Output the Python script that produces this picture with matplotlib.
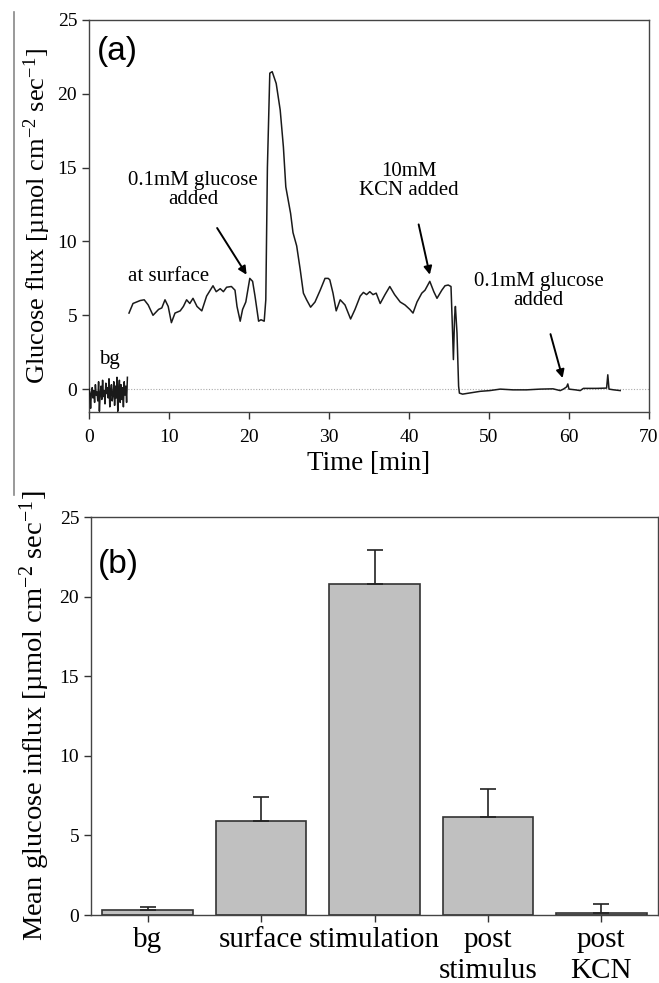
import matplotlib
matplotlib.use("Agg")
import matplotlib.pyplot as plt
from matplotlib.lines import Line2D

plt.rcParams['font.family'] = ['Liberation Serif', 'DejaVu Serif']
plt.rcParams['mathtext.default'] = 'regular'

# ---------------- panel (a) data ----------------
t_bg = [0.0, 0.1, 0.2, 0.3, 0.4, 0.5, 0.6, 0.7, 0.8, 0.9, 1.0, 1.1, 1.2, 1.3, 1.4, 1.5,
        1.6, 1.7, 1.8, 1.9, 2.0, 2.1, 2.2, 2.3, 2.4, 2.5, 2.6, 2.7, 2.8, 2.9, 3.0, 3.1,
        3.2, 3.3, 3.4, 3.5, 3.6, 3.7, 3.8, 3.9, 4.0, 4.1, 4.2, 4.3, 4.4, 4.5, 4.6, 4.7, 4.8]
y_bg = [0.0, -0.3, -1.3, -0.2, 0.1, -0.6, -0.1, -0.9, 0.3, -0.4, -0.2, -0.8, 0.5, -1.5, -0.3,
        0.2, -0.7, 0.6, -0.5, -0.1, -1.0, 0.4, -0.3, 0.1, -0.6, 0.7, -1.2, -0.2, 0.3, -0.8,
        -0.4, 0.5, -1.1, 0.2, -0.6, 0.8, -1.5, -0.1, 0.6, -0.9, 0.3, -0.7, 0.1, -1.2, 0.5,
        -0.4, 0.2, -0.9, 0.8]

t_flux = [5.0, 5.5, 6.4, 6.9, 7.4, 8.0, 8.7, 9.1, 9.5, 9.9, 10.3, 10.75, 11.4, 11.8, 12.2,
          12.6, 13.0, 13.5, 14.1, 14.7, 15.5, 15.9, 16.4, 16.8, 17.2, 17.8, 18.25, 18.5,
          18.9, 19.2, 19.6, 20.1, 20.45, 20.75, 21.2, 21.5, 21.9, 22.1, 22.3, 22.6, 22.9,
          23.4, 23.9, 24.3, 24.6, 24.9, 25.2, 25.5, 25.96, 26.4, 26.8, 27.2, 27.7, 28.25,
          28.9, 29.5, 29.9, 30.1, 30.5, 30.9, 31.4, 32.0, 32.7, 33.25, 33.9, 34.3, 34.7,
          35.1, 35.5, 35.9, 36.4, 37.0, 37.6, 38.2, 38.9, 39.5, 40.1, 40.5, 41.0, 41.6,
          42.0, 42.6, 43.1, 43.5, 44.1, 44.5, 44.9, 45.25, 45.45, 45.55, 45.7, 45.8, 46.0,
          46.2, 46.3, 46.7, 47.5, 48.9, 50.1, 51.4, 53.0, 54.7, 56.4, 58.0, 58.9, 59.3,
          59.7, 59.85, 60.0, 60.8, 61.4, 61.8, 63.5, 64.7, 64.85, 65.0, 65.6, 66.4]
y_flux = [5.15, 5.8, 6.0, 6.05, 5.7, 5.0, 5.4, 5.5, 6.05, 5.6, 4.5, 5.15, 5.3, 5.6, 6.05,
          5.8, 6.15, 5.6, 5.3, 6.3, 7.0, 6.6, 6.8, 6.6, 6.9, 6.95, 6.7, 5.6,
          4.6, 5.4, 5.9, 7.5, 7.3, 6.3, 4.6, 4.7, 4.6, 6.05, 15.0, 21.4, 21.5,
          20.7, 18.9, 16.4, 13.7, 12.8, 11.9, 10.6, 9.7, 8.1, 6.5, 6.05, 5.55, 5.9,
          6.7, 7.5, 7.5, 7.4, 6.5, 5.3, 6.05, 5.7, 4.75, 5.4, 6.3, 6.55, 6.4,
          6.6, 6.4, 6.5, 5.8, 6.4, 6.95, 6.4, 5.9, 5.7, 5.4, 5.15, 5.9, 6.5,
          6.7, 7.3, 6.6, 6.15, 6.7, 7.0, 7.05, 6.95, 3.8, 2.0, 4.9, 5.6, 3.8,
          0.2, -0.27, -0.34, -0.27, -0.15, -0.1, 0.0, -0.05, -0.05, 0.0, 0.02, -0.1, 0.0,
          0.15, 0.35, 0.0, -0.05, -0.1, 0.05, 0.05, 0.07, 0.97, 0.0, -0.05, -0.1]

# ---------------- panel (b) data ----------------
categories = ['bg', 'surface', 'stimulation', 'post\nstimulus', 'post\nKCN']
means = [0.3, 5.9, 20.8, 6.15, 0.12]
errors = [0.2, 1.5, 2.1, 1.75, 0.58]

W, H = 659, 983
fig = plt.figure(figsize=(W / 100, H / 100), dpi=100)

# ---------------- panel (a) ----------------
axa = fig.add_axes([89 / W, 1 - 412 / H, 560 / W, 392 / H])
axa.axhline(0, color='#aaaaaa', lw=0.8, ls=(0, (1, 1.5)), zorder=1)
axa.plot(t_bg, y_bg, color='#1a1a1a', lw=1.1, zorder=3)
axa.plot(t_flux, y_flux, color='#1a1a1a', lw=1.1, zorder=3)
axa.set_xlim(0, 70)
axa.set_ylim(-1.55, 25)
axa.set_xticks([0, 10, 20, 30, 40, 50, 60, 70])
axa.set_yticks([0, 5, 10, 15, 20, 25])
axa.tick_params(direction='out', length=5, width=1, labelsize=14, color='#333333',
                top=False, right=False)
axa.tick_params(axis='x', pad=7)
for s in axa.spines.values():
    s.set_color('#444444')
    s.set_linewidth(1.0)
axa.set_xlabel('Time [min]', fontsize=19.5, labelpad=4)
axa.set_ylabel(r'Glucose flux [µmol cm$^{-2}$ sec$^{-1}$]', fontsize=19)
axa.yaxis.set_label_coords(-0.064, 0.5)

axa.text(3.6, 22.9, '(a)', fontsize=24, family=['Liberation Sans', 'DejaVu Sans'], ha='center', va='center')
axa.text(2.6, 2.0, 'bg', fontsize=15, ha='center', va='center')
axa.text(9.9, 7.6, 'at surface', fontsize=15, ha='center', va='center')
axa.annotate('0.1mM glucose\nadded', xy=(19.7, 7.75), xytext=(13.0, 13.5),
             fontsize=15, ha='center', va='center', linespacing=1.0,
             arrowprops=dict(arrowstyle='-|>', color='black', lw=1.4, mutation_scale=12,
                             shrinkA=14, shrinkB=0))
axa.annotate('10mM\nKCN added', xy=(42.6, 7.75), xytext=(40.0, 14.1),
             fontsize=15, ha='center', va='center', linespacing=1.0,
             arrowprops=dict(arrowstyle='-|>', color='black', lw=1.4, mutation_scale=12,
                             shrinkA=16, shrinkB=0))
axa.annotate('0.1mM glucose\nadded', xy=(59.2, 0.75), xytext=(56.2, 6.65),
             fontsize=15, ha='center', va='center', linespacing=1.0,
             arrowprops=dict(arrowstyle='-|>', color='black', lw=1.4, mutation_scale=12,
                             shrinkA=16, shrinkB=0))

# ---------------- panel (b) ----------------
axb = fig.add_axes([91 / W, 1 - 915 / H, 567 / W, 398 / H])
xpos = list(range(len(categories)))
axb.bar(xpos, means, width=0.8, color='#c0c0c0', edgecolor='#333333', linewidth=1.2, zorder=2)
axb.errorbar(xpos, means, yerr=[[0] * len(errors), errors], fmt='none', ecolor='#222222',
             elinewidth=1.2, capsize=6, capthick=1.2, zorder=3)
axb.set_xlim(-0.5, 4.5)
axb.set_ylim(0, 25)
axb.set_yticks([0, 5, 10, 15, 20, 25])
axb.set_xticks(xpos)
axb.set_xticklabels(categories, fontsize=21, linespacing=1.25)
axb.tick_params(axis='y', labelsize=14)
axb.tick_params(direction='out', length=5, width=1, color='#333333', top=False, right=False)
for s in axb.spines.values():
    s.set_color('#444444')
    s.set_linewidth(1.0)
axb.set_ylabel(r'Mean glucose influx [µmol cm$^{-2}$ sec$^{-1}$]', fontsize=20.5)
axb.yaxis.set_label_coords(-0.068, 0.5)
axb.text(-0.26, 22.0, '(b)', fontsize=24, family=['Liberation Sans', 'DejaVu Sans'], ha='center', va='center')

# thin grey vertical rule at left edge (present in the reference)
fig.add_artist(Line2D([14 / W, 14 / W], [1 - 12 / H, 1 - 495 / H], color='#888888', lw=1.2,
                      transform=fig.transFigure))

fig.savefig('out.png', dpi=100)
